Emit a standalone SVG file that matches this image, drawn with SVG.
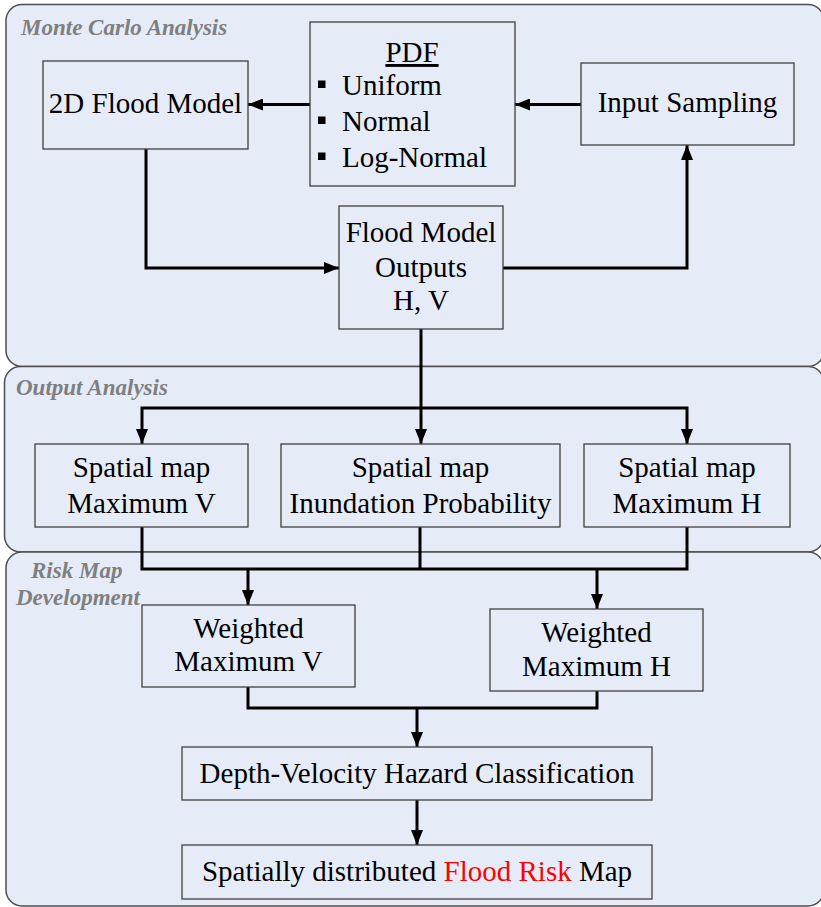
<svg xmlns="http://www.w3.org/2000/svg" width="821" height="907" viewBox="0 0 821 907">
<defs>
<style>
.panel{fill:#E6ECF7;stroke:#4d4d4d;stroke-width:1.5}
.node{fill:none;stroke:#404040;stroke-width:1.3}
.t{font-family:"Liberation Serif","Times New Roman",serif;font-size:29px;fill:#000;text-anchor:middle}
.tl{font-family:"Liberation Serif","Times New Roman",serif;font-size:29px;fill:#000}
.title{font-family:"Liberation Serif","Times New Roman",serif;font-size:23px;font-weight:bold;font-style:italic;fill:#7F7F7F}
.c{fill:none;stroke:#000;stroke-width:3}
.ca{fill:none;stroke:#000;stroke-width:3;marker-end:url(#ah)}
</style>
<marker id="ah" markerUnits="userSpaceOnUse" markerWidth="15" markerHeight="12" refX="15" refY="6" orient="auto">
<path d="M0,0 L15,6 L0,12 z" fill="#000"/>
</marker>
</defs>
<rect width="821" height="907" fill="#fff"/>
<g id="panels">
<rect class="panel" x="6" y="4.5" width="818" height="362" rx="16"/>
<rect class="panel" x="4.5" y="366.5" width="819.5" height="185.5" rx="16"/>
<rect class="panel" x="6" y="552" width="818" height="354" rx="16"/>
<text class="title" x="21" y="35">Monte Carlo Analysis</text>
<text class="title" x="16" y="395">Output Analysis</text>
<text class="title" x="31" y="578">Risk Map</text>
<text class="title" x="16" y="605">Development</text>
</g>
<g id="connectors">
<path class="ca" d="M310,104.5 H248"/>
<path class="ca" d="M581,104.5 H515"/>
<path class="ca" d="M146,149 V268 H339"/>
<path class="ca" d="M503,268 H687 V145"/>
<path class="ca" d="M421,329 V444"/>
<path class="ca" d="M421,408 H142 V444"/>
<path class="ca" d="M421,408 H687 V444"/>
<path class="c" d="M142,527 V569 H687 V527"/>
<path class="c" d="M420,527 V569"/>
<path class="ca" d="M248,569 V605"/>
<path class="ca" d="M597,569 V609"/>
<path class="c" d="M248,687 V708 H597 V691"/>
<path class="ca" d="M417,708 V747"/>
<path class="ca" d="M417,800 V845"/>
</g>
<g id="flood2d">
<rect class="node" x="43" y="61" width="205" height="88"/>
<text class="t" x="145.5" y="113">2D Flood Model</text>
</g>
<g id="pdf">
<rect class="node" x="310" y="22" width="205" height="164"/>
<text class="t" x="412" y="62" text-decoration="underline">PDF</text>
<rect x="318" y="80.5" width="7.5" height="7.5" fill="#000"/>
<rect x="318" y="116.5" width="7.5" height="7.5" fill="#000"/>
<rect x="318" y="152.5" width="7.5" height="7.5" fill="#000"/>
<text class="tl" x="342" y="95">Uniform</text>
<text class="tl" x="342" y="131">Normal</text>
<text class="tl" x="342" y="167">Log-Normal</text>
</g>
<g id="input">
<rect class="node" x="581" y="63" width="213" height="82"/>
<text class="t" x="687.5" y="112">Input Sampling</text>
</g>
<g id="outputs">
<rect class="node" x="339" y="206" width="164" height="123"/>
<text class="t" x="421" y="242">Flood Model</text>
<text class="t" x="421" y="277">Outputs</text>
<text class="t" x="421" y="310">H, V</text>
</g>
<g id="mapV">
<rect class="node" x="35" y="444" width="213" height="83"/>
<text class="t" x="141.5" y="477">Spatial map</text>
<text class="t" x="141.5" y="513">Maximum V</text>
</g>
<g id="mapP">
<rect class="node" x="281" y="444" width="279" height="83"/>
<text class="t" x="420.5" y="477">Spatial map</text>
<text class="t" x="420.5" y="513">Inundation Probability</text>
</g>
<g id="mapH">
<rect class="node" x="584" y="444" width="206" height="83"/>
<text class="t" x="687" y="477">Spatial map</text>
<text class="t" x="687" y="513">Maximum H</text>
</g>
<g id="wV">
<rect class="node" x="142" y="605" width="213" height="82"/>
<text class="t" x="248.5" y="638">Weighted</text>
<text class="t" x="248.5" y="671">Maximum V</text>
</g>
<g id="wH">
<rect class="node" x="490" y="609" width="213" height="82"/>
<text class="t" x="596.5" y="642">Weighted</text>
<text class="t" x="596.5" y="676">Maximum H</text>
</g>
<g id="hazard">
<rect class="node" x="182" y="747" width="470" height="53"/>
<text class="t" x="417" y="783">Depth-Velocity Hazard Classification</text>
</g>
<g id="risk">
<rect class="node" x="182" y="845" width="470" height="54"/>
<text class="t" x="417" y="881">Spatially distributed <tspan fill="#FF0000">Flood Risk</tspan> Map</text>
</g>
</svg>
